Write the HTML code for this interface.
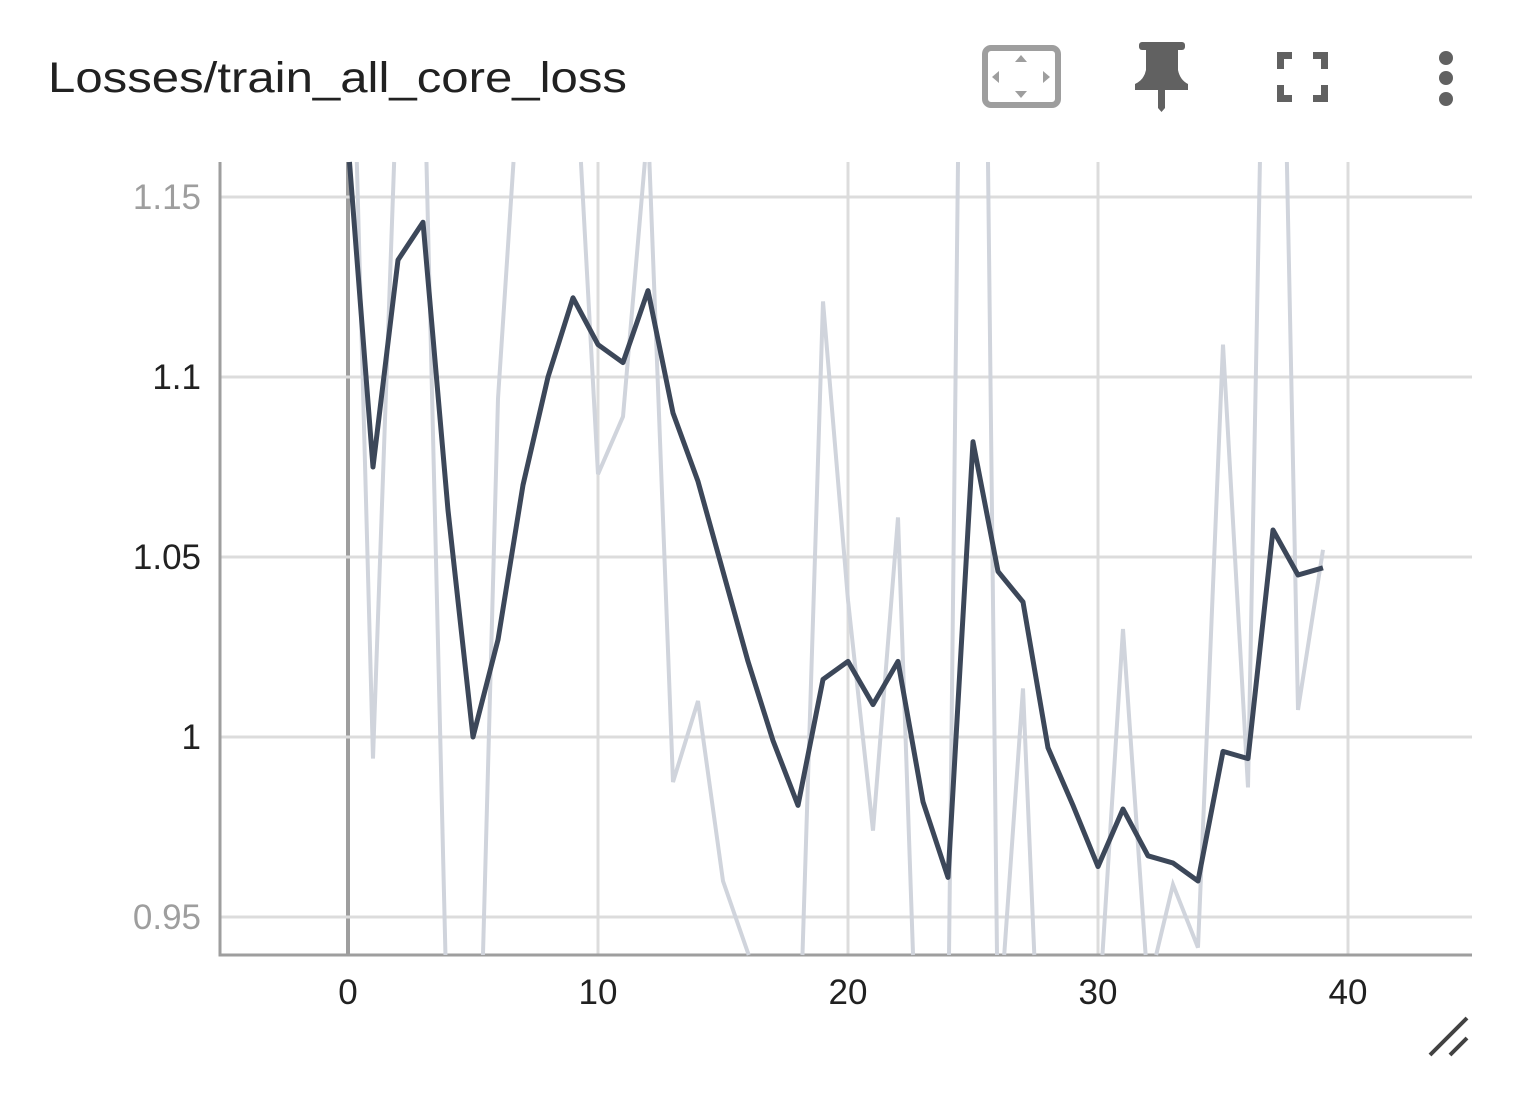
<!DOCTYPE html>
<html><head><meta charset="utf-8"><style>
html,body{margin:0;padding:0;background:#fff;width:1524px;height:1112px;overflow:hidden;font-family:"Liberation Sans",sans-serif}
svg{display:block}
</style></head><body>
<svg id="chart" width="1524" height="1112" xmlns="http://www.w3.org/2000/svg">
<text x="48" y="92" font-size="43" textLength="579" lengthAdjust="spacingAndGlyphs" fill="#212121" font-family="Liberation Sans, sans-serif">Losses/train_all_core_loss</text>
<g>
<rect x="985" y="48" width="73" height="57" rx="6" fill="none" stroke="#9e9e9e" stroke-width="6"/>
<polygon points="1021,55 1015,62 1027,62" fill="#9e9e9e"/><polygon points="1021,98 1015,91 1027,91" fill="#9e9e9e"/>
<polygon points="992,77 999,71 999,83" fill="#9e9e9e"/><polygon points="1050,77 1043,71 1043,83" fill="#9e9e9e"/></g>
<g fill="#616161">
<rect x="1139" y="42" width="46" height="8" rx="3"/><path d="M1146,48 H1178 V70 Q1180,80 1188,84 V90 H1135 V84 Q1144,80 1146,70Z"/><path d="M1158,88 H1165 V108 L1161.5,112 L1158,108Z"/></g>
<g fill="#616161">
<path d="M1277,52h15v7h-8v10h-7z"/><path d="M1328,52h-15v7h8v10h7z"/><path d="M1277,102h15v-7h-8v-10h-7z"/><path d="M1328,102h-15v-7h8v-10h7z"/></g>
<g fill="#616161"><circle cx="1446" cy="58" r="7"/><circle cx="1446" cy="78" r="7"/><circle cx="1446" cy="99" r="7"/></g>
<g id="plot"></g>
<g stroke="#424242" stroke-width="4"><line x1="1430" y1="1055" x2="1467" y2="1018"/><line x1="1450" y1="1055" x2="1467" y2="1038"/></g>
</svg>
<script>
const steps=[0,1,2,3,4,5,6,7,8,9,10,11,12,13,14,15,16,17,18,19,20,21,22,23,24,25,26,27,28,29,30,31,32,33,34,35,36,37,38,39];
const smoothed=[1.165,1.075,1.1325,1.143,1.063,1.0,1.027,1.07,1.1,1.122,1.109,1.104,1.124,1.09,1.071,1.046,1.021,0.999,0.981,1.016,1.021,1.009,1.021,0.982,0.961,1.082,1.046,1.0375,0.997,0.981,0.964,0.98,0.967,0.965,0.96,0.996,0.994,1.0575,1.045,1.047];
const raw=[1.25,0.994,1.19,1.2,0.91,0.837,1.094,1.2,1.22,1.2,1.073,1.089,1.17,0.9875,1.01,0.96,0.94,0.92,0.9,1.121,1.038,0.974,1.061,0.859,0.915,1.527,0.915,1.0135,0.85,0.88,0.92,1.03,0.93,0.959,0.9415,1.109,0.986,1.35,1.0075,1.052];
const xTicks=[0,10,20,30,40];
const yTicks=[0.95,1,1.05,1.1,1.15];
const yTickLabels=["0.95","1","1.05","1.1","1.15"];
const L=220,R=1472,T=162,B=955;
const xs=v=>348+v*25;
const ys=v=>737-(v-1)*3600;
const NS="http://www.w3.org/2000/svg";
const g=document.getElementById('plot');
function mk(t,a,p){const e=document.createElementNS(NS,t);for(const k in a)e.setAttribute(k,a[k]);(p||g).appendChild(e);return e;}
function clipSeg(x1,y1,x2,y2){let t0=0,t1=1;const dx=x2-x1,dy=y2-y1;
const p=[-dx,dx,-dy,dy],q=[x1-L,R-x1,y1-T,B-y1];
for(let i=0;i<4;i++){if(p[i]===0){if(q[i]<0)return null;}else{const r=q[i]/p[i];if(p[i]<0){if(r>t1)return null;if(r>t0)t0=r;}else{if(r<t0)return null;if(r<t1)t1=r;}}}
return [x1+t0*dx,y1+t0*dy,x1+t1*dx,y1+t1*dy];}
function pathFor(vals){let d='',lx=null,ly=null;
for(let i=0;i<steps.length-1;i++){const c=clipSeg(xs(steps[i]),ys(vals[i]),xs(steps[i+1]),ys(vals[i+1]));if(!c)continue;
if(lx===null||Math.abs(c[0]-lx)>0.01||Math.abs(c[1]-ly)>0.01)d+=`M${c[0].toFixed(2)},${c[1].toFixed(2)}`;
d+=`L${c[2].toFixed(2)},${c[3].toFixed(2)}`;lx=c[2];ly=c[3];}
return d;}
xTicks.forEach(t=>{const l=mk('line',{x1:xs(t),x2:xs(t),y1:T,y2:B,stroke:t===0?'#9e9e9e':'#dcdcdc','stroke-width':t===0?4:3});


const tx=mk('text',{x:xs(t),y:1004,'text-anchor':'middle','font-size':35,fill:'#212121'});tx.textContent=t;

});
yTicks.forEach((t,i)=>{const l=mk('line',{x1:L,x2:R,y1:ys(t),y2:ys(t),stroke:'#dcdcdc','stroke-width':3});


const edge=(i===0||i===yTicks.length-1);
const tx=mk('text',{x:201,y:ys(t)+12,'text-anchor':'end','font-size':35,fill:edge?'#9e9e9e':'#212121'});tx.textContent=yTickLabels[i];

});
const ax=mk('path',{d:`M${L},${T} V${B} H${R}`,fill:'none',stroke:'#9e9e9e','stroke-width':3});


const pr=mk('path',{d:pathFor(raw),fill:'none',stroke:'#d0d4dc','stroke-width':4});


const ps=mk('path',{d:pathFor(smoothed),fill:'none',stroke:'#3c4759','stroke-width':5,'stroke-linejoin':'round'});


</script>
</body></html>
